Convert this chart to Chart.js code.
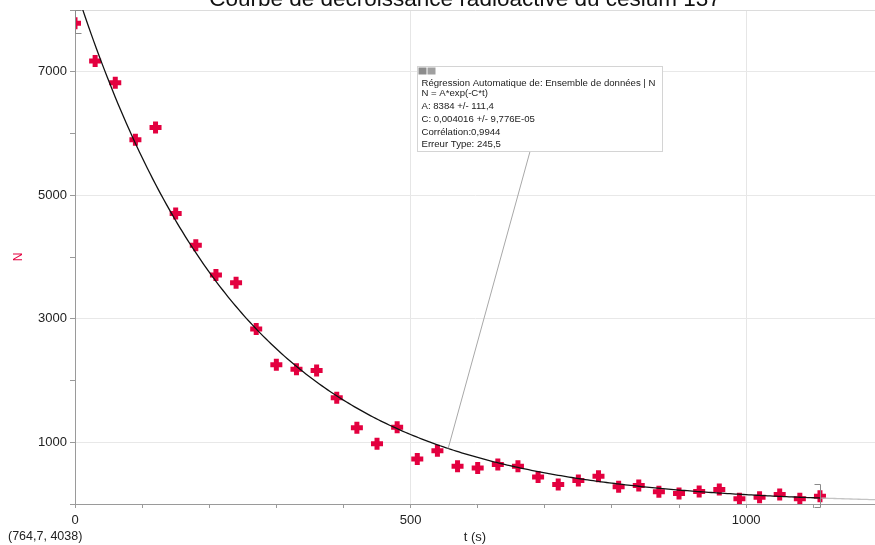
<!DOCTYPE html>
<html lang="fr">
<head>
  <meta charset="UTF-8">
  <title>Décroissance radioactive du césium 137</title>
  <script src="https://cdn.jsdelivr.net/npm/chart.js"></script>
  <style>
    html, body { margin: 0; padding: 0; background: #fff; }
    #wrap { width: 875px; height: 545px; }
  </style>
</head>
<body>
  <div id="wrap"><canvas id="chart" width="875" height="545"></canvas></div>
  <script>
    // mesures : temps (s) et nombre de désintégrations N
    const temps = [0, 30, 60, 90, 120, 150, 180, 210, 240, 270, 300, 330, 360, 390, 420, 450, 480, 510, 540,
      570, 600, 630, 660, 690, 720, 750, 780, 810, 840, 870, 900, 930, 960, 990, 1020, 1050, 1080, 1110];
    const valeursN = [7784, 7176, 6821, 5900, 6099, 4704, 4192, 3708, 3583, 2835, 2254, 2184, 2162, 1720, 1236, 977, 1241, 730, 864,
      611, 585, 638, 611, 439, 315, 380, 449, 278, 299, 197, 170, 202, 234, 84, 110, 153, 84, 126];

    // paramètres de la régression affichés dans l'encadré
    const fitA = 8384;
    const fitC = 0.004016;
    const tFinAxe = 1192;
    const tLegende = 556;

    const xTicks = [0, 100, 200, 300, 400, 500, 600, 700, 800, 900, 1000, 1100];
    const xTickLabels = [0, 500, 1000];
    const yTicks = [0, 1000, 2000, 3000, 4000, 5000, 6000, 7000, 8000];
    const yTickLabels = [1000, 3000, 5000, 7000];

    const titre = 'Courbe de décroissance radioactive du césium 137';
    const infosRegression = [
      'Régression Automatique de: Ensemble de données | N',
      'N = A*exp(-C*t)',
      'A: 8384 +/- 111,4',
      'C: 0,004016 +/- 9,776E-05',
      'Corrélation:0,9944',
      'Erreur Type: 245,5'
    ];
    const curseur = '(764,7, 4038)';

    const rouge = '#e3003f';
    const police = '"Liberation Sans", Arial, sans-serif';

    const courbe = [];
    for (let t = 0; t <= tFinAxe; t += 4) courbe.push({ x: t, y: fitA * Math.exp(-fitC * t) });
    const points = temps.map((t, i) => ({ x: t, y: valeursN[i] }));
    const tDernier = temps[temps.length - 1];

    const decor = {
      id: 'decor',
      afterDraw(chart) {
        const { ctx, scales: { x, y } } = chart;
        ctx.save();

        // titre (coupé en haut comme sur la capture)
        ctx.fillStyle = '#111';
        ctx.font = '22.5px ' + police;
        ctx.textAlign = 'center';
        ctx.textBaseline = 'alphabetic';
        ctx.fillText(titre, 465, 6);

        // crochets de la plage de données
        ctx.strokeStyle = '#8a8a8a';
        ctx.lineWidth = 1;
        const x0 = Math.round(x.getPixelForValue(temps[0])) + 0.5;
        const y0 = y.getPixelForValue(valeursN[0]);
        ctx.beginPath();
        ctx.moveTo(x0 + 6, Math.round(y0 - 13) + 0.5);
        ctx.lineTo(x0, Math.round(y0 - 13) + 0.5);
        ctx.lineTo(x0, Math.round(y0 + 10) + 0.5);
        ctx.lineTo(x0 + 6, Math.round(y0 + 10) + 0.5);
        ctx.stroke();
        const x1 = Math.round(x.getPixelForValue(tDernier)) + 0.5;
        const y1 = y.getPixelForValue(valeursN[valeursN.length - 1]);
        ctx.beginPath();
        ctx.moveTo(x1 - 6, Math.round(y1 - 12) + 0.5);
        ctx.lineTo(x1, Math.round(y1 - 12) + 0.5);
        ctx.lineTo(x1, Math.round(y1 + 11) + 0.5);
        ctx.lineTo(x1 - 6, Math.round(y1 + 11) + 0.5);
        ctx.stroke();

        // encadré de la régression et son trait de rappel
        const bx = 417.5, by = 66.5, bw = 245, bh = 85;
        ctx.strokeStyle = '#a8a8a8';
        ctx.beginPath();
        ctx.moveTo(x.getPixelForValue(tLegende), y.getPixelForValue(fitA * Math.exp(-fitC * tLegende)));
        ctx.lineTo(530, by + bh);
        ctx.stroke();

        ctx.fillStyle = '#fff';
        ctx.fillRect(bx, by, bw, bh);
        ctx.strokeStyle = '#d4d4d4';
        ctx.strokeRect(bx, by, bw, bh);
        ctx.fillStyle = '#8c8c8c';
        ctx.fillRect(bx + 1, by + 1, 8, 7);
        ctx.fillStyle = '#a0a0a0';
        ctx.fillRect(bx + 10, by + 1, 8, 7);

        ctx.fillStyle = '#222';
        ctx.font = '9.6px ' + police;
        ctx.textAlign = 'left';
        ctx.textBaseline = 'middle';
        const lignesY = [83, 93.5, 106, 119, 132, 144];
        infosRegression.forEach((l, i) => ctx.fillText(l, bx + 4, lignesY[i]));

        // coordonnées du curseur
        ctx.font = '12.5px ' + police;
        ctx.fillText(curseur, 8, 537);

        ctx.restore();
      }
    };

    new Chart(document.getElementById('chart'), {
      type: 'scatter',
      data: {
        datasets: [
          {
            type: 'line',
            data: courbe,
            borderColor: '#111',
            borderWidth: 1.3,
            pointRadius: 0,
            fill: false,
            segment: { borderColor: c => c.p0.parsed.x >= tDernier ? '#c4c4c4' : '#111' }
          },
          {
            data: points,
            pointStyle: 'cross',
            pointRadius: 6,
            borderWidth: 5,
            borderColor: rouge,
            backgroundColor: rouge
          }
        ]
      },
      options: {
        responsive: false,
        animation: false,
        devicePixelRatio: 1,
        layout: { autoPadding: false, padding: { top: 10, right: 0, bottom: 0, left: 0 } },
        plugins: { legend: { display: false }, tooltip: { enabled: false } },
        scales: {
          x: {
            type: 'linear',
            min: 0,
            max: tFinAxe,
            border: { color: '#9a9a9a' },
            grid: {
              color: c => (c.tick && c.tick.value > 0 && xTickLabels.includes(c.tick.value)) ? '#e6e6e6' : 'rgba(0,0,0,0)',
              tickColor: '#9a9a9a',
              tickLength: 4
            },
            ticks: {
              autoSkip: false,
              maxRotation: 0,
              padding: 5,
              color: '#222',
              font: { family: police, size: 13 },
              callback: v => xTickLabels.includes(v) ? String(v) : ''
            },
            afterBuildTicks: s => { s.ticks = xTicks.map(v => ({ value: v })); },
            title: {
              display: true,
              text: 't (s)',
              color: '#222',
              font: { family: police, size: 13 },
              padding: { top: 0, bottom: 0 }
            },
            afterFit: s => { s.height = 41; s.paddingLeft = 0; s.paddingRight = 0; }
          },
          y: {
            min: 0,
            max: 8000,
            border: { color: '#9a9a9a' },
            grid: {
              color: c => {
                if (!c.tick) return 'rgba(0,0,0,0)';
                if (yTickLabels.includes(c.tick.value)) return '#e8e8e8';
                if (c.tick.value === 8000) return '#dcdcdc';
                return 'rgba(0,0,0,0)';
              },
              tickColor: '#9a9a9a',
              tickLength: 5
            },
            ticks: {
              autoSkip: false,
              padding: 3,
              color: '#222',
              font: { family: police, size: 13 },
              callback: v => yTickLabels.includes(v) ? String(v) : ''
            },
            afterBuildTicks: s => { s.ticks = yTicks.map(v => ({ value: v })); },
            title: {
              display: true,
              text: 'N',
              color: rouge,
              font: { family: police, size: 12 },
              padding: { top: 11, bottom: 0 }
            },
            afterFit: s => { s.width = 75; s.paddingTop = 0; s.paddingBottom = 0; }
          }
        }
      },
      plugins: [decor]
    });
  </script>
</body>
</html>
